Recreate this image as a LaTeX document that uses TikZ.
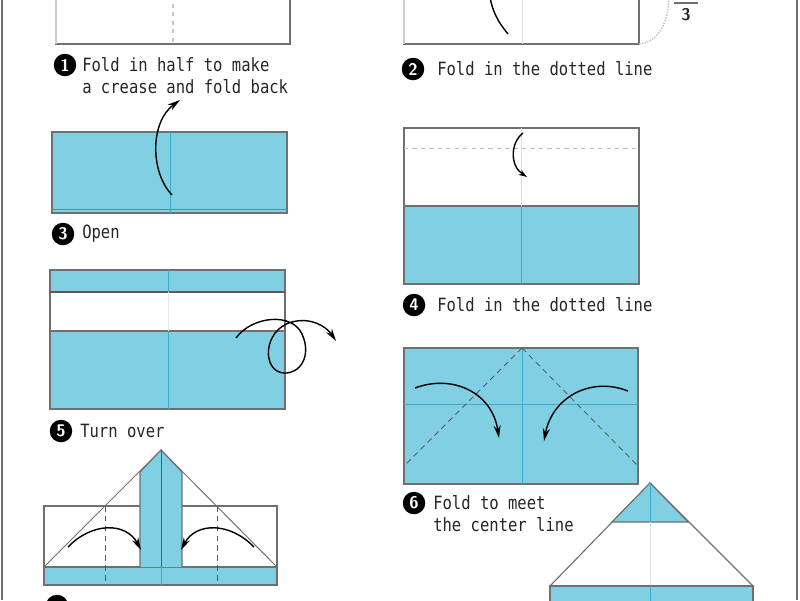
\documentclass[tikz,border=0pt]{standalone}
\usepackage{fontspec}
\newfontfamily\stepfont[FakeStretch=0.85]{DejaVu Sans Mono}
\usetikzlibrary{arrows.meta}
\definecolor{paper}{RGB}{128,207,226}
\definecolor{crease}{RGB}{58,172,204}
\definecolor{edge}{RGB}{112,112,112}

\tikzset{
  sheet/.style={draw=edge,line width=0.8pt},
  valley/.style={draw=edge!80!black,dashed,line width=0.6pt,dash pattern=on 4pt off 3pt},
  fold/.style={line width=1pt,-{Stealth[length=9pt,width=5pt]}},
  stepnum/.style={circle,fill=black,text=white,inner sep=0pt,minimum size=16pt,font=\sffamily\bfseries\large},
  steptext/.style={anchor=west,inner sep=0pt,align=left,text=black!85,font=\stepfont\fontsize{13}{15.6}\selectfont}
}

\begin{document}
\begin{tikzpicture}[x=0.025cm,y=-0.025cm]
	\useasboundingbox (0,0) rectangle (800,600);
	\draw[edge,line width=1.5pt] (2,0) -- (2,600);
	\draw[edge,line width=1.5pt] (797,0) -- (797,600);

	% 1
	\draw[sheet,fill=white] (56,-30) rectangle (290,44);
	\draw[gray!40,line width=0.8pt] (56,-30) -- (56,44);
	\draw[gray!45,dashed,line width=1pt] (173,-30) -- (173,44);
	\node[stepnum] at (65,65) (num1) {1};
	\node[steptext] at (82,76) (txt1) {Fold in half to make\\a crease and fold back};

	% 2
	\draw[sheet,fill=white] (404,-30) rectangle (639,44);
	\draw[gray!40,line width=0.8pt] (404,-30) -- (404,44);
	\draw[gray!25,line width=0.6pt] (522,-30) -- (522,44);
	\coordinate (a2) at (489,-10);
	\coordinate (b2) at (508,34);
	\draw[line width=1pt] (a2) .. controls (491,10) and (498,22) .. (b2);
	\coordinate (c2) at (639,44);
	\coordinate (d2) at (669,-5);
	\draw[gray!50,densely dotted,line width=1pt] (c2) .. controls (660,42) and (669,20) .. (d2);
	\draw[edge,line width=1.6pt] (674,3) -- (698,3);
	\node[font=\sffamily\bfseries\large,text=black!85,inner sep=0pt] at (686,15) (third) {3};
	\node[stepnum] at (413,69) (num2) {2};
	\node[steptext] at (437,69) (txt2) {Fold in the dotted line};

	% 3
	\draw[sheet,fill=paper] (52,132) rectangle (287,213);
	\draw[edge!80!paper,line width=0.6pt] (52,209) -- (287,209);
	\draw[crease,line width=0.6pt] (170,132) -- (170,213);
	\coordinate (a3) at (172,195);
	\coordinate (b3) at (180,100);
	\draw[fold] (a3) .. controls (150,172) and (150,122) .. (b3);
	\node[stepnum] at (63,234) (num3) {3};
	\node[steptext] at (82,234) (txt3) {Open};

	% 4
	\draw[sheet,fill=white] (404,128) rectangle (639,284);
	\fill[paper] (404,206) rectangle (639,284);
	\draw[sheet] (404,128) rectangle (639,284);
	\draw[edge,line width=0.8pt] (404,206) -- (639,206);
	\draw[gray!50,dashed,line width=0.6pt] (404,148) -- (639,148);
	\draw[gray!25,line width=0.6pt] (521,128) -- (521,206);
	\draw[crease,line width=0.6pt] (521,206) -- (521,284);
	\coordinate (a4) at (523,133);
	\coordinate (b4) at (527,177);
	\draw[line width=1pt,-{Stealth[length=6pt,width=4pt]}] (a4) .. controls (510,143) and (510,166) .. (b4);
	\node[stepnum] at (414,305) (num4) {4};
	\node[steptext] at (437,305) (txt4) {Fold in the dotted line};

	% 5
	\draw[sheet,fill=paper] (50,270) rectangle (285,409);
	\fill[white] (50,292) rectangle (285,331);
	\draw[sheet] (50,270) rectangle (285,409);
	\draw[edge!80!black,line width=0.8pt] (50,292) -- (285,292);
	\draw[edge,line width=0.8pt] (50,331) -- (285,331);
	\draw[crease,line width=0.6pt] (168,270) -- (168,292);
	\draw[gray!20,line width=0.6pt] (168,292) -- (168,331);
	\draw[crease,line width=0.6pt] (168,331) -- (168,409);
	\coordinate (a5) at (236,338);
	\coordinate (b5) at (336,341);
	\draw[fold] (a5) .. controls (252,316) and (292,312) .. (302,334)
		.. controls (312,356) and (300,374) .. (284,373)
		.. controls (262,372) and (262,330) .. (292,322)
		.. controls (310,317) and (326,326) .. (b5);
	\node[stepnum] at (61,431) (num5) {5};
	\node[steptext] at (80,431) (txt5) {Turn over};

	% 6
	\draw[sheet,fill=paper] (404,348) rectangle (638,484);
	\draw[crease,line width=0.6pt] (404,404) -- (638,404);
	\draw[crease,line width=0.6pt] (522,348) -- (522,484);
	\draw[valley] (522,348) -- (405,465);
	\draw[valley] (522,348) -- (637,465);
	\coordinate (a6) at (415,388);
	\coordinate (b6) at (499,438);
	\draw[fold] (a6) .. controls (452,374) and (492,392) .. (b6);
	\coordinate (c6) at (628,391);
	\coordinate (d6) at (544,441);
	\draw[fold] (c6) .. controls (590,376) and (552,398) .. (d6);
	\node[stepnum] at (414,503) (num6) {6};
	\node[steptext] at (433,514) (txt6) {Fold to meet\\the center line};

	% 7
	\draw[sheet,fill=white] (44,506) rectangle (277,567);
	\draw[sheet,fill=paper] (44,567) rectangle (277,585);
	\draw[edge,line width=0.7pt] (44,567) -- (161,450) -- (277,567);
	\draw[sheet,fill=paper] (140,567) -- (140,472) -- (161,450) -- (182,472) -- (182,567);
	\draw[edge!80!black,line width=0.7pt] (161,450) -- (161,567);
	\draw[crease,line width=0.6pt] (161,567) -- (161,585);
	\draw[valley] (105,506) -- (105,585);
	\draw[valley] (217,506) -- (217,585);
	\coordinate (a7) at (68,547);
	\coordinate (b7) at (141,550);
	\draw[fold] (a7) .. controls (92,522) and (126,522) .. (b7);
	\coordinate (c7) at (254,547);
	\coordinate (d7) at (181,550);
	\draw[fold] (c7) .. controls (230,522) and (196,522) .. (d7);
	\node[stepnum] at (57,606) (num7) {};

	% 8
	\draw[sheet,fill=white] (550,586) -- (650,483) -- (753,586) -- cycle;
	\draw[sheet,fill=paper] (612,522) -- (650,483) -- (688,522) -- cycle;
	\draw[gray!25,line width=0.6pt] (650,522) -- (650,586);
	\draw[crease,line width=0.6pt] (650,483) -- (650,522);
	\draw[sheet,fill=paper] (550,586) rectangle (753,630);
	\draw[crease,line width=0.6pt] (650,586) -- (650,630);
\end{tikzpicture}
\end{document}
